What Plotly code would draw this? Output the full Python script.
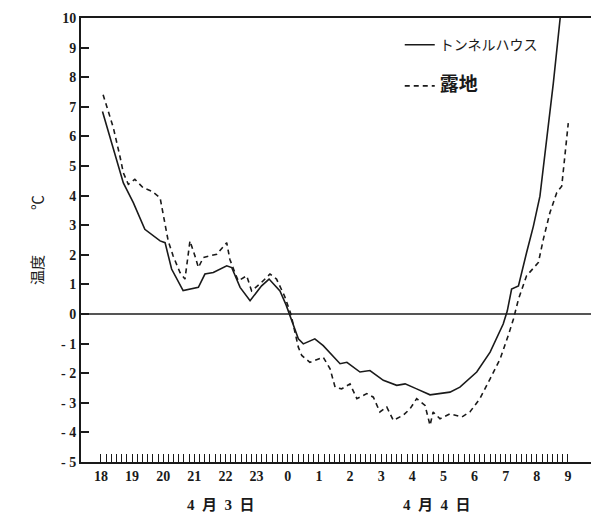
import plotly.graph_objects as go

# hours elapsed since 18:00 on 4/3
hour_labels = ["18", "19", "20", "21", "22", "23", "0", "1", "2", "3", "4", "5", "6", "7", "8", "9"]
y_ticks = [10, 9, 8, 7, 6, 5, 4, 3, 2, 1, 0, -1, -2, -3, -4, -5]
y_tick_text = ["10", "9", "8", "7", "6", "5", "4", "3", "2", "1", "0", "- 1", "- 2", "- 3", "- 4", "- 5"]

tunnel_x = [0.05, 0.4, 0.72, 1.04, 1.41, 1.9, 2.06, 2.27, 2.64, 3.13, 3.34, 3.61, 4.04, 4.2, 4.47,
            4.79, 5.16, 5.4, 5.75, 5.95, 6.07, 6.34, 6.5, 6.87, 7.14, 7.68, 7.9, 8.32, 8.64, 9.07,
            9.5, 9.77, 10.14, 10.57, 11.21, 11.53, 12.07, 12.5, 12.92, 13.05, 13.19, 13.41, 13.67,
            13.89, 14.1, 14.32, 14.53, 14.75]
tunnel_y = [6.84, 5.6, 4.43, 3.76, 2.86, 2.47, 2.41, 1.52, 0.79, 0.9, 1.35, 1.40, 1.63, 1.57, 0.9,
            0.45, 0.95, 1.18, 0.78, 0.3, -0.06, -0.84, -1.01, -0.84, -1.07, -1.68, -1.63, -1.96, -1.91, -2.24,
            -2.41, -2.36, -2.53, -2.73, -2.64, -2.47, -1.96, -1.29, -0.34, 0.1, 0.84, 0.95, 2.07,
            2.97, 3.98, 5.89, 7.8, 10.0]

open_x = [0.07, 0.4, 0.61, 0.72, 0.88, 1.09, 1.36, 1.63, 1.9, 2.06, 2.16, 2.32, 2.54, 2.7, 2.86,
          3.02, 3.13, 3.29, 3.72, 4.04, 4.14, 4.3, 4.41, 4.68, 4.84, 5.16, 5.43, 5.64, 5.9, 6.1,
          6.34, 6.45, 6.71, 7.14, 7.36, 7.52, 7.73, 8.0, 8.22, 8.54, 8.75, 8.96, 9.18, 9.39, 9.71,
          9.93, 10.14, 10.41, 10.57, 10.67, 10.89, 11.21, 11.59, 11.85, 12.17, 12.5, 12.82, 13.08,
          13.25, 13.41, 13.67, 14.05, 14.21, 14.42, 14.64, 14.8, 14.91, 15.01]
open_y = [7.41, 6.29, 5.33, 4.77, 4.38, 4.55, 4.26, 4.15, 3.93, 3.09, 2.47, 1.96, 1.40, 1.18, 2.47,
          1.96, 1.57, 1.91, 2.02, 2.41, 1.85, 1.40, 1.12, 1.29, 0.78, 1.07, 1.35, 1.18, 0.6, 0.0,
          -1.12, -1.40, -1.63, -1.46, -1.85, -2.47, -2.53, -2.36, -2.86, -2.69, -2.81, -3.31, -3.14,
          -3.59, -3.42, -3.2, -2.86, -3.09, -3.76, -3.31, -3.54, -3.37, -3.48, -3.31, -2.86, -2.19,
          -1.52, -0.73, -0.17, 0.5, 1.29, 1.74, 2.53, 3.42, 4.1, 4.32, 5.33, 6.45]

series_names = ["トンネルハウス", "露地"]
date_labels = ["4\u2002月\u20023\u2002日", "4\u2002月\u20024\u2002日"]
date_positions = [3.86, 10.8]

FONT = "Liberation Serif, Noto Sans CJK JP, serif"
INK = "#1a1a1a"

fig = go.Figure()
fig.add_trace(go.Scatter(x=tunnel_x, y=tunnel_y, mode="lines", name=series_names[0],
                         legendgroup="a", line=dict(color=INK, width=1.6)))
fig.add_trace(go.Scatter(x=open_x, y=open_y, mode="lines", legendgroup="b",
                         name="<span style='font-size:19px;font-weight:bold'>" + series_names[1] + "</span>",
                         line=dict(color=INK, width=1.6, dash="5px,4px")))

minor_vals = [i / 6 for i in range(0, 15 * 6 + 1)]

fig.update_layout(
    width=591, height=522,
    margin=dict(l=81, r=0, t=18, b=60),
    paper_bgcolor="white", plot_bgcolor="white",
    font=dict(family=FONT, color=INK, size=14),
    showlegend=True,
    legend=dict(x=0.625, y=0.975, xanchor="left", yanchor="top",
                bgcolor="rgba(0,0,0,0)", itemwidth=30, tracegroupgap=20,
                font=dict(size=14, family="Noto Sans CJK JP, sans-serif", color=INK)),
    xaxis=dict(range=[-0.64, 15.74], showgrid=False, zeroline=False,
               showline=True, linecolor=INK, linewidth=2, mirror=True,
               tickmode="array", tickvals=list(range(16)), ticktext=hour_labels,
               ticks="inside", ticklen=8, tickwidth=1, tickcolor=INK,
               tickfont=dict(family=FONT, size=14, weight="bold"),
               minor=dict(tickmode="array", tickvals=minor_vals, ticks="inside",
                          ticklen=8, tickwidth=1, tickcolor=INK, showgrid=False)),
    yaxis=dict(range=[-5, 10], showgrid=False,
               zeroline=True, zerolinecolor="#555555", zerolinewidth=2,
               showline=True, linecolor=INK, linewidth=2,
               tickmode="array", tickvals=y_ticks, ticktext=y_tick_text,
               ticks="inside", ticklen=8, tickwidth=1.5, tickcolor=INK,
               tickfont=dict(family=FONT, size=14, weight="bold"),
               title=dict(text="温度　　　℃", standoff=14,
                          font=dict(family="Noto Sans CJK JP, sans-serif", size=15, color=INK))),
)

for txt, pos in zip(date_labels, date_positions):
    fig.add_annotation(x=pos, y=-0.075, xref="x", yref="paper", text=txt, showarrow=False,
                       yanchor="top", font=dict(family=FONT, size=15, weight="bold", color=INK))

fig.write_html("out.html")
